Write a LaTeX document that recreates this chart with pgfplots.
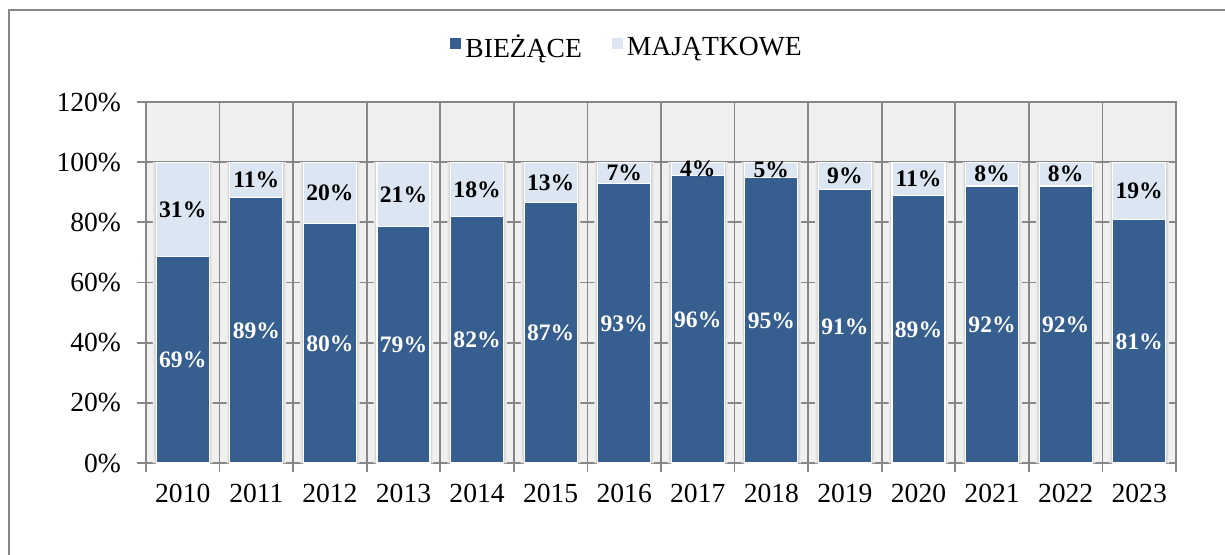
\documentclass[border=0pt]{standalone}
\usepackage{pgfplots}
\pgfplotsset{compat=1.18}
\usepackage{pgfplotstable}
\usepackage{fontspec}
\setmainfont{Liberation Serif}
\definecolor{cB}{RGB}{54,94,142}
\definecolor{cM}{RGB}{220,230,242}
\definecolor{cBg}{RGB}{240,240,240}
\definecolor{cGrid}{RGB}{135,135,135}

\pgfplotstableread{
x b m bl ml bmid mmid
0 68.6 31.4 69 31 34.3 84.3
1 88.2 11.8 89 11 44.1 94.1
2 79.5 20.5 80 20 39.75 89.75
3 78.5 21.5 79 21 39.25 89.25
4 81.9 18.1 82 18 40.95 90.95
5 86.5 13.5 87 13 43.25 93.25
6 92.8 7.2 93 7 46.4 96.4
7 95.5 4.5 96 4 47.75 97.75
8 94.8 5.2 95 5 47.4 97.4
9 90.8 9.2 91 9 45.4 95.4
10 88.8 11.2 89 11 44.4 94.4
11 92.1 7.9 92 8 46.05 96.05
12 92.1 7.9 92 8 46.05 96.05
13 80.9 19.1 81 19 40.45 90.45
}\data

\pgfplotsset{
  base/.style={
    width=515pt, height=180.5pt, scale only axis,
    at={(0,0)}, anchor=south west,
    xmin=-0.5, xmax=13.5, ymin=0, ymax=120,
  },
}

\begin{document}
\begin{tikzpicture}
% background axis: fill, grid, ticks, shadows
\begin{axis}[base,
  axis background/.style={fill=cBg},
  axis line style={cGrid, line width=0.9pt},
  tick align=outside,
  xtick pos=bottom, ytick pos=left,
  ytick={0,20,...,120},
  yticklabel={\pgfmathprintnumber{\tick}\%},
  /pgf/number format/assume math mode=true,
  major tick length=4.5pt,
  tick style={cGrid, line width=0.9pt},
  ymajorgrids, xmajorgrids,
  grid style={cGrid, line width=0.9pt},
  xtick={-0.5,0.5,...,13.5},
  xticklabels={},
  extra x ticks={0,...,13},
  extra x tick labels={2010,2011,2012,2013,2014,2015,2016,2017,2018,2019,2020,2021,2022,2023},
  extra x tick style={major tick length=0pt, grid=none,
     xticklabel style={yshift=-7pt}},
  ticklabel style={font=\fontsize{13.8}{16}\selectfont},
  yticklabel style={xshift=-4.5pt},
]
\addplot[ybar, bar width=0.81, bar shift=0pt, fill=black!8, draw=none] coordinates {(0,100)(1,100)(2,100)(3,100)(4,100)(5,100)(6,100)(7,100)(8,100)(9,100)(10,100)(11,100)(12,100)(13,100)};
\addplot[ybar, bar width=0.77, bar shift=0pt, fill=black!16, draw=none] coordinates {(0,100)(1,100)(2,100)(3,100)(4,100)(5,100)(6,100)(7,100)(8,100)(9,100)(10,100)(11,100)(12,100)(13,100)};
\end{axis}
% bars
\begin{axis}[base,
  axis lines=none,
  ybar stacked, bar width=0.72,
  legend style={at={(0.468,1.15)}, anchor=center, draw=none, fill=none,
    legend columns=2, font=\fontsize{13.8}{16}\selectfont,
    /tikz/every even column/.append style={column sep=13pt},
    legend cell align=left},
  legend image code/.code={\fill[#1, draw=none] (0pt,-0.5pt) rectangle (5.5pt,5pt);},
]
\addplot[fill=cB, draw=white, line width=0.6pt] table[x=x, y=b] {\data};
\addlegendentry{BIEŻĄCE}
\addplot[fill=cM, draw=white, line width=0.6pt] table[x=x, y=m] {\data};
\addlegendentry{MAJĄTKOWE}
\end{axis}
% labels
\begin{axis}[base,
  axis lines=none, clip=false,
  /pgf/number format/assume math mode=true,
  nodes near coords={\pgfmathprintnumber{\pgfplotspointmeta}\%},
  nodes near coords align=center,
  every node near coord/.append style={anchor=center, font=\fontsize{11.8}{14}\selectfont\bfseries},
]
\addplot[only marks, mark=none, point meta=explicit,
  every node near coord/.append style={text=white}] table[x=x, y=bmid, meta=bl] {\data};
\addplot[only marks, mark=none, point meta=explicit,
  every node near coord/.append style={text=black}] table[x=x, y=mmid, meta=ml] {\data};
\end{axis}
\draw[cGrid, line width=0.7pt] (-68.5pt,-46pt) -- (-68.5pt,226.5pt) -- (540pt,226.5pt);
\pgfresetboundingbox
\path[use as bounding box] (-73pt,-45.5pt) rectangle (539.5pt,231.5pt);
\end{tikzpicture}
\end{document}
